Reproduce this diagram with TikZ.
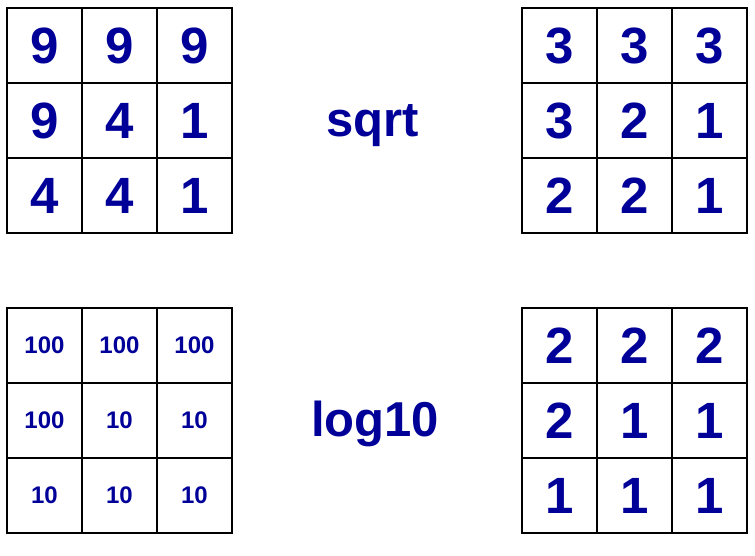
\documentclass[tikz,border=0pt]{standalone}
\usepackage{fontspec}
\setmainfont{Liberation Sans}
\definecolor{navy}{RGB}{0,0,153}
\tikzset{
  cell/.style={draw=black, line width=2pt, minimum size=75pt, inner sep=0pt,
    font=\fontsize{51}{51}\selectfont\bfseries, text=navy},
  smallcell/.style={cell, font=\fontsize{24}{24}\selectfont\bfseries},
  oplabel/.style={inner sep=0pt, anchor=base, font=\fontsize{49}{49}\selectfont\bfseries, text=navy}
}
\begin{document}
\begin{tikzpicture}[x=1pt,y=-1pt]
\useasboundingbox (0,0) rectangle (755,556);
% top-left
\foreach \v [count=\i from 0] in {9,9,9,9,4,1,4,4,1}{
  \pgfmathtruncatemacro\c{mod(\i,3)}
  \pgfmathtruncatemacro\r{div(\i,3)}
  \node[cell] (A\i) at (44.5+75*\c, 45.5+75*\r) {\v};
}
% top-right
\foreach \v [count=\i from 0] in {3,3,3,3,2,1,2,2,1}{
  \pgfmathtruncatemacro\c{mod(\i,3)}
  \pgfmathtruncatemacro\r{div(\i,3)}
  \node[cell] (B\i) at (559.5+75*\c, 45.5+75*\r) {\v};
}
% bottom-left
\foreach \v [count=\i from 0] in {100,100,100,100,10,10,10,10,10}{
  \pgfmathtruncatemacro\c{mod(\i,3)}
  \pgfmathtruncatemacro\r{div(\i,3)}
  \node[smallcell] (C\i) at (44.5+75*\c, 345.5+75*\r) {\v};
}
% bottom-right
\foreach \v [count=\i from 0] in {2,2,2,2,1,1,1,1,1}{
  \pgfmathtruncatemacro\c{mod(\i,3)}
  \pgfmathtruncatemacro\r{div(\i,3)}
  \node[cell] (D\i) at (559.5+75*\c, 345.5+75*\r) {\v};
}
\node[oplabel] (sq) at (373,137) {sqrt};
\node[oplabel] (lg) at (375,436) {log10};
\end{tikzpicture}
\end{document}
